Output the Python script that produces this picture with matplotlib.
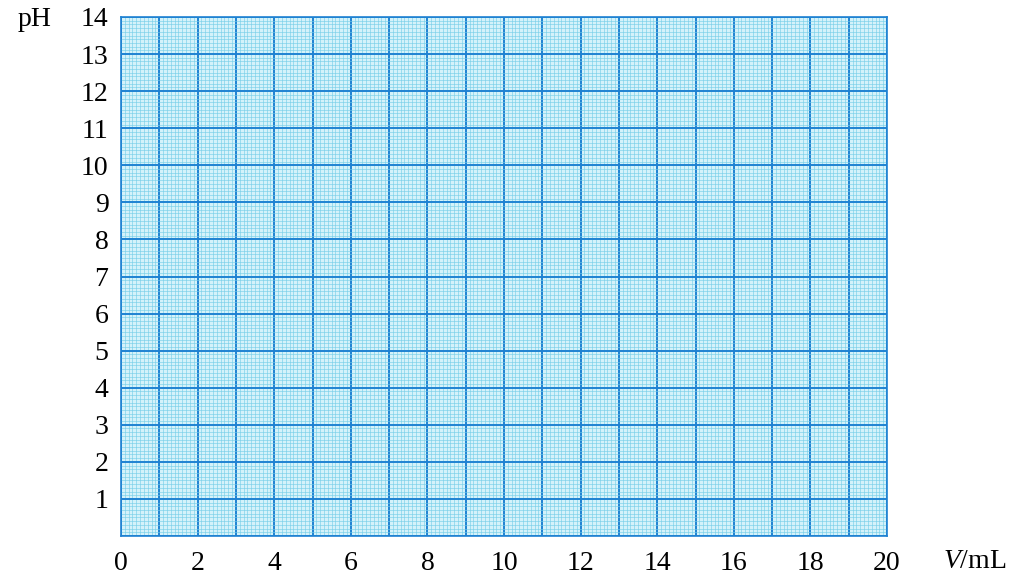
"""Blank pH vs. titrant volume graph paper."""

import matplotlib

matplotlib.use("Agg")
import matplotlib.pyplot as plt  # noqa: E402
import numpy as np  # noqa: E402

# axis ranges and labels
x_max = 20
y_max = 14
x_major = list(range(0, 21))
x_labels = ["0", "", "2", "", "4", "", "6", "", "8", "", "10", "", "12", "", "14", "", "16", "", "18", "", "20"]
y_major = list(range(0, 15))
y_labels = ["", "1", "2", "3", "4", "5", "6", "7", "8", "9", "10", "11", "12", "13", "14"]
minor_step = 0.1

paper = "#d4f2fa"
minor_color = "#74cde8"
major_color = "#1f82d2"

plt.rcParams["font.family"] = ["Liberation Serif", "DejaVu Serif"]
plt.rcParams["mathtext.fontset"] = "custom"
plt.rcParams["mathtext.it"] = "Liberation Serif:italic"
plt.rcParams["mathtext.rm"] = "Liberation Serif"

fig = plt.figure(figsize=(10.15, 5.78), dpi=100)
ax = fig.add_axes([121 / 1015, 42 / 578, 766 / 1015, 519 / 578])
ax.set_facecolor(paper)
ax.set_xlim(0, x_max)
ax.set_ylim(0, y_max)

ax.set_xticks(x_major)
ax.set_xticklabels(x_labels)
ax.set_yticks(y_major)
ax.set_yticklabels(y_labels)
ax.set_xticks(np.arange(0, x_max + minor_step / 2, minor_step), minor=True)
ax.set_yticks(np.arange(0, y_max + minor_step / 2, minor_step), minor=True)

ax.grid(which="minor", color=minor_color, linewidth=0.5, alpha=0.85)
ax.grid(which="major", color=major_color, linewidth=1.4)
ax.set_axisbelow(True)

ax.tick_params(which="both", length=0)
ax.tick_params(axis="x", pad=11, labelsize=20)
ax.tick_params(axis="y", pad=9, labelsize=20)

for spine in ax.spines.values():
    spine.set_color(major_color)
    spine.set_linewidth(1.2)

fig.text(35 / 1015, 1 - 20 / 578, "pH", fontsize=20, ha="center", va="center")
fig.text(975 / 1015, 1 - 561 / 578, "$\\mathit{V}$/mL", fontsize=20, ha="center", va="center")

fig.savefig("out.png", dpi=100, facecolor="white")
